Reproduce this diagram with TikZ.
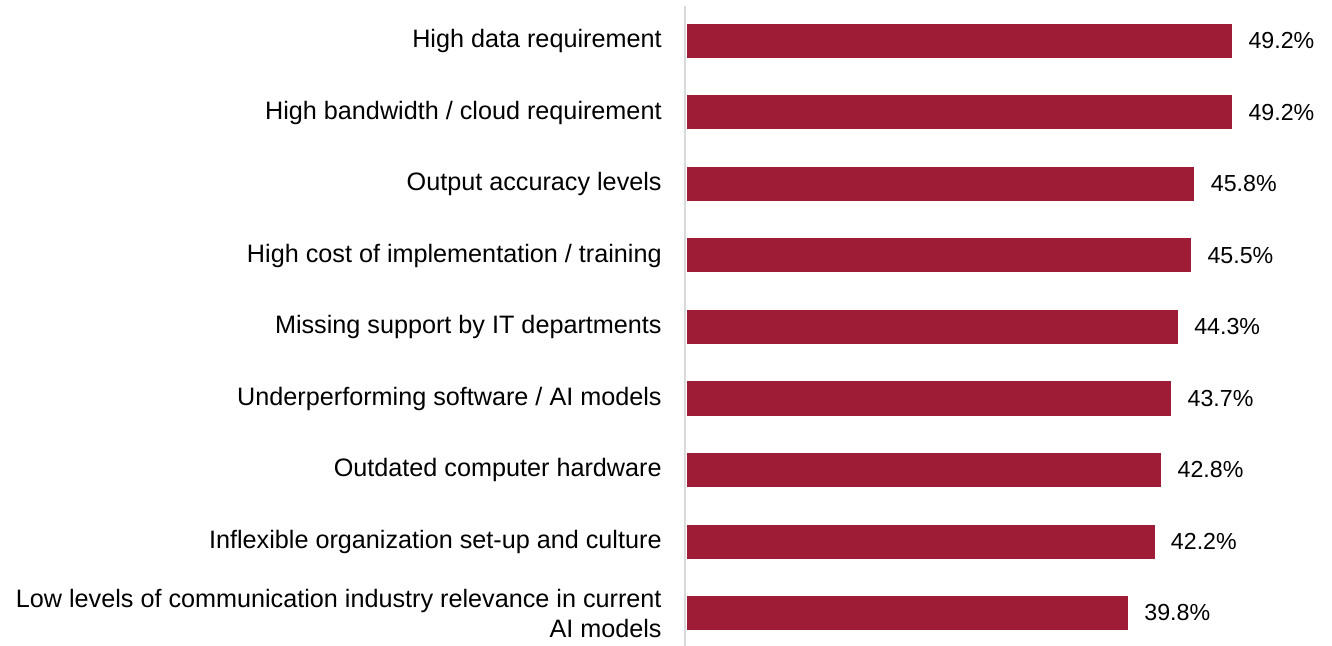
\documentclass[tikz,border=0pt]{standalone}
\usepackage{fontspec}
\setmainfont{Liberation Sans}
\usetikzlibrary{calc}
\definecolor{barred}{HTML}{9E1C35}
\definecolor{axisgray}{HTML}{D9D9D9}
\tikzset{
  bar/.style={fill=barred},
  lbl/.style={anchor=east,align=right,inner sep=0pt,font=\fontsize{12.6}{15}\selectfont},
  val/.style={anchor=west,inner sep=0pt,font=\fontsize{11.6}{13}\selectfont}
}
\begin{document}
\begin{tikzpicture}[x=0.5pt,y=-0.5pt]
			\useasboundingbox (0,0) rectangle (1332,646);
			\def\s{11.08}
			\def\h{17}
			\path (685,6) coordinate (T) (685,646) coordinate (B);
			\draw[axisgray,line width=1pt] (T)--(B);
			\foreach \v/\t [count=\i] in {49.2/{High data requirement},49.2/{High bandwidth / cloud requirement},45.8/{Output accuracy levels},45.5/{High cost of implementation / training},44.3/{Missing support by IT departments},43.7/{Underperforming software / AI models},42.8/{Outdated computer hardware},42.2/{Inflexible organization set-up and culture},39.8/{Low levels of communication industry relevance in current\\AI models}}
			{
				\pgfmathsetmacro\yc{41+(\i-1)*71.5}
				\path (687,\yc) coordinate (s\i) ++(\v*\s,0) coordinate (e\i);
				\fill[bar] ($(s\i)+(0,-\h)$) rectangle ($(e\i)+(0,\h)$);
				\node[val] (val\i) at ($(e\i)+(16,0)$) {\v\%};
				\node[lbl] (lbl\i) at (662,\yc) {\t};
			}
		\end{tikzpicture}
\end{document}
